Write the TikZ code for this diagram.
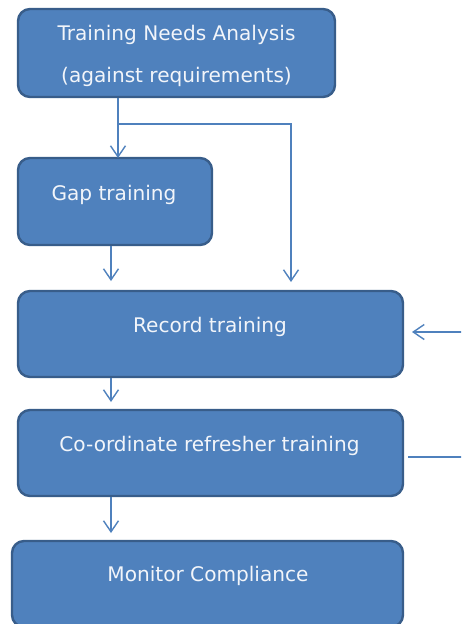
\documentclass[tikz,border=0pt]{standalone}
\usepackage{fontspec}
\setmainfont{DejaVu Sans}
\usetikzlibrary{arrows.meta}
\definecolor{boxfill}{HTML}{4F81BD}
\definecolor{boxdraw}{HTML}{385D8A}
\definecolor{linecol}{HTML}{4F81BD}
\definecolor{txtcol}{HTML}{F2F5FA}
\tikzset{
  stepbox/.style={draw=boxdraw, fill=boxfill, line width=2.4pt, rounded corners=12pt, inner sep=0pt, outer sep=0pt},
  boxtext/.style={anchor=base, text=txtcol, inner sep=0pt, font=\fontsize{20.1}{24}\selectfont},
  conn/.style={draw=linecol, line width=1.4pt, -{Straight Barb[length=11pt,width=15pt,line width=1.4pt]}},
  plain/.style={draw=linecol, line width=1.4pt}
}
\begin{document}
\begin{tikzpicture}[x=1pt,y=-1pt]
\useasboundingbox (0,0) rectangle (461,624);
\clip (0,0) rectangle (461,624);
% boxes
\node[stepbox, minimum width=317pt, minimum height=88pt] (tna) at (176.5,53) {};
\node[stepbox, minimum width=194pt, minimum height=87pt] (gap) at (115,201.5) {};
\node[stepbox, minimum width=385pt, minimum height=86pt] (rec) at (210.5,334) {};
\node[stepbox, minimum width=385pt, minimum height=86pt] (coord) at (210.5,453) {};
\node[stepbox, minimum width=391pt, minimum height=86pt] (mon) at (207.5,584) {};
% texts
\node[boxtext] (tna1) at (176.5,40) {Training Needs Analysis};
\node[boxtext] (tna2) at (176.5,82) {(against requirements)};
\node[boxtext] (gapt) at (114,200) {Gap training};
\node[boxtext] (rect) at (210,332) {Record training};
\node[boxtext] (coordt) at (209.5,451) {Co-ordinate refresher training};
\node[boxtext] (mont) at (208,581) {Monitor Compliance};
% coordinates
\coordinate (tnaout) at (118,98);
\coordinate (split) at (118,124);
\coordinate (bend) at (291,124);
\coordinate (rectop) at (291,282);
\coordinate (gapout) at (111,246);
\coordinate (recin) at (111,281);
\coordinate (recout) at (111,378);
\coordinate (coordin) at (111,402);
\coordinate (coordout) at (111,497);
\coordinate (monin) at (111,533);
\coordinate (extin) at (462,332);
\coordinate (recright) at (412,332);
\coordinate (coordright) at (408,457);
\coordinate (extout) at (462,457);
% connectors
\draw[conn] (tnaout) -- (tnaout |- gap.north);
\draw[conn] (split) -- (bend) -- (rectop);
\draw[conn] (gapout) -- (recin);
\draw[conn] (recout) -- (coordin);
\draw[conn] (coordout) -- (monin);
\draw[conn] (extin) -- (recright);
\draw[plain] (coordright) -- (extout);
\end{tikzpicture}
\end{document}
